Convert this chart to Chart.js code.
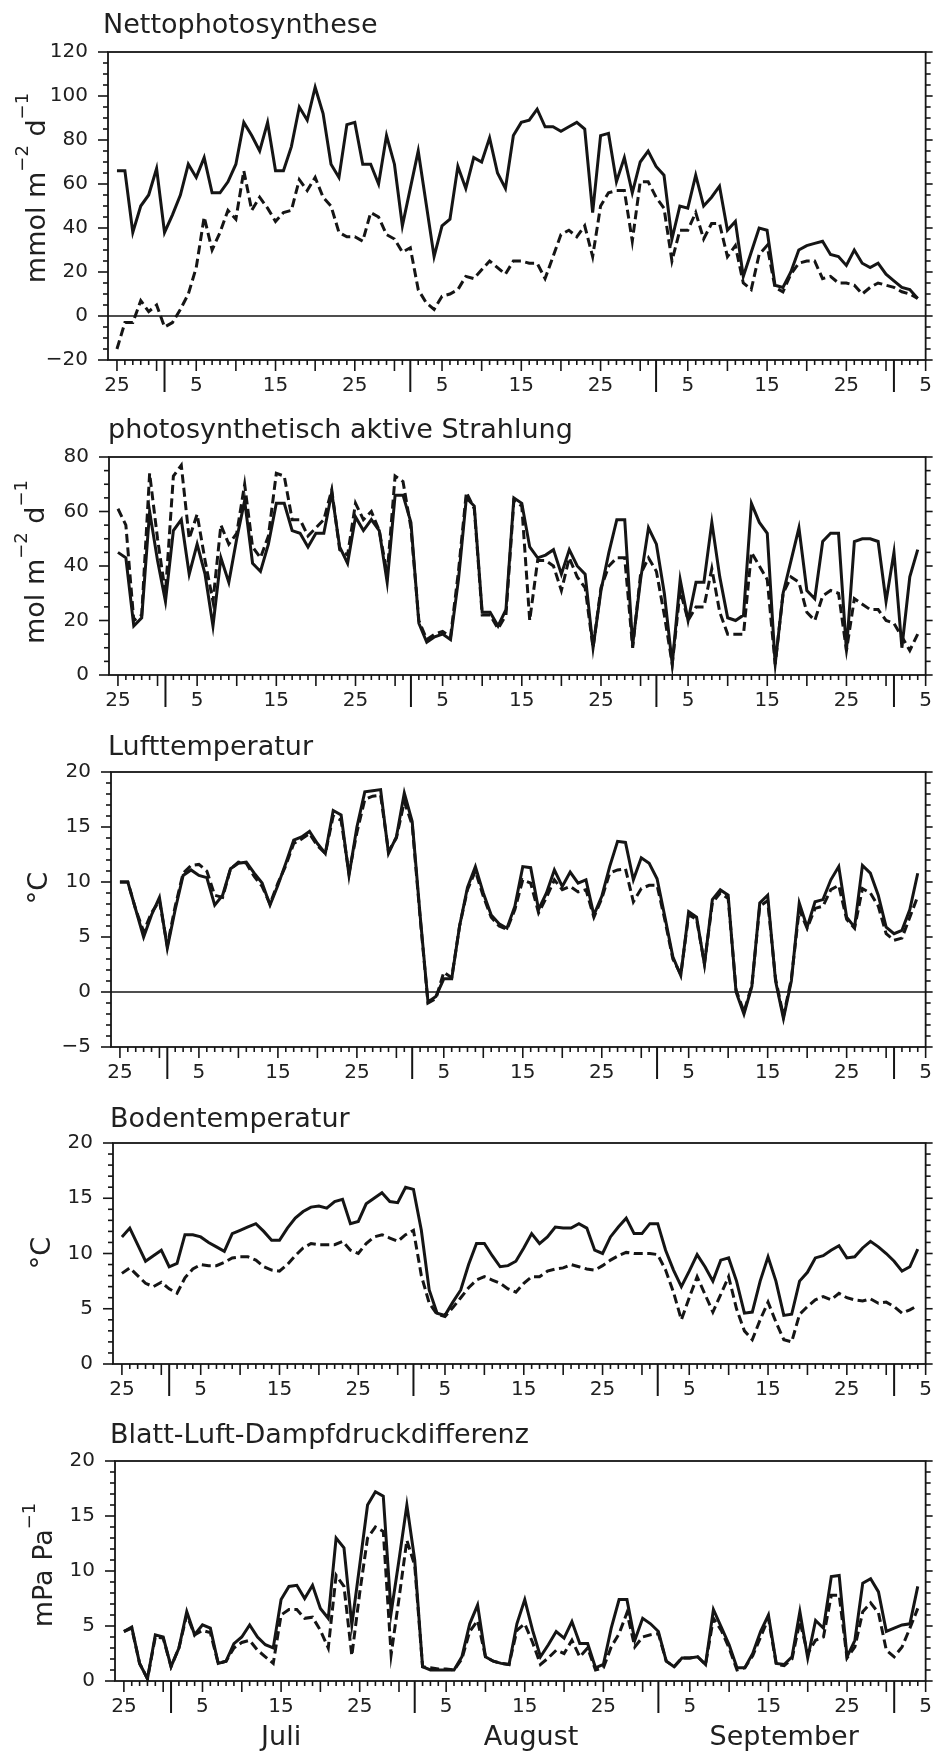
<!DOCTYPE html>
<html>
<head>
<meta charset="utf-8">
<title>Nettophotosynthese und Standortfaktoren</title>
<script src="https://cdn.jsdelivr.net/npm/chart.js@4.4.1/dist/chart.umd.min.js"></script>
<style>
  html, body { margin: 0; padding: 0; background: #fff; }
  #page { position: relative; width: 946px; height: 1755px; overflow: hidden; }
  #page canvas { position: absolute; left: 0; }
</style>
</head>
<body>
<div id="page">
  <canvas id="p1" width="946" height="410" style="top:0px"></canvas>
  <canvas id="p2" width="946" height="315" style="top:410px"></canvas>
  <canvas id="p3" width="946" height="370" style="top:725px"></canvas>
  <canvas id="p4" width="946" height="315" style="top:1095px"></canvas>
  <canvas id="p5" width="946" height="345" style="top:1410px"></canvas>
</div>
<script>
// day index 0 = 25 June ... 101 = 4 October
const monthLens = [30, 31, 31, 30, 31];   // June .. October
const tickDays = [0, 10, 20, 30, 41, 51, 61, 72, 82, 92, 102];
const tickText = ['25', '5', '15', '25', '5', '15', '25', '5', '15', '25', '5'];
const months = ['Juli', 'August', 'September'];

// Nettophotosynthese (mmol m-2 d-1)
const nettoA = [66, 66, 38, 50, 55, 67, 38, 46, 55, 69,
  63, 72, 56, 56, 61, 69, 88, 82, 75, 88,
  66, 66, 77, 95, 89, 104, 92, 69, 63, 87,
  88, 69, 69, 60, 82, 69, 41, 58, 75, 51,
  27, 41, 44, 68, 58, 72, 70, 81, 65, 58,
  82, 88, 89, 94, 86, 86, 84, 86, 88, 85,
  47, 82, 83, 61, 72, 56, 70, 75, 68, 64,
  35, 50, 49, 64, 50, 54, 59, 39, 43, 18,
  29, 40, 39, 14, 13, 20, 30, 32, 33, 34,
  28, 27, 23, 30, 24, 22, 24, 19, 16, 13,
  12, 8];
const nettoB = [-15, -3, -3, 7, 2, 5, -5, -3, 3, 10,
  22, 45, 30, 38, 48, 44, 66, 48, 54, 49,
  43, 47, 48, 62, 57, 63, 54, 50, 38, 36,
  36, 34, 47, 45, 37, 35, 29, 31, 12, 6,
  3, 9, 10, 12, 18, 17, 21, 25, 22, 19,
  25, 25, 24, 24, 17, 27, 37, 39, 36, 41,
  27, 50, 56, 57, 57, 34, 61, 61, 54, 49,
  25, 39, 39, 47, 35, 42, 42, 27, 32, 15,
  12, 28, 32, 13, 11, 19, 24, 25, 25, 17,
  18, 15, 15, 14, 10, 13, 15, 14, 13, 11,
  10, 8];

// photosynthetisch aktive Strahlung (mol m-2 d-1)
const parA = [45, 43, 18, 21, 60, 42, 27, 53, 57, 37,
  48, 37, 18, 43, 34, 50, 64, 41, 38, 48,
  63, 63, 53, 52, 47, 52, 52, 67, 47, 41,
  58, 53, 57, 53, 34, 66, 66, 56, 19, 12,
  14, 15, 13, 35, 65, 62, 23, 23, 18, 24,
  65, 63, 47, 43, 44, 46, 37, 46, 40, 37,
  10, 31, 45, 57, 57, 11, 35, 54, 48, 30,
  4, 35, 20, 34, 34, 56, 36, 21, 20, 22,
  63, 56, 52, 4, 30, 42, 54, 31, 28, 49,
  52, 52, 9, 49, 50, 50, 49, 27, 45, 10,
  36, 46];
const parB = [61, 55, 20, 22, 74, 50, 30, 73, 77, 50,
  59, 42, 27, 55, 48, 52, 70, 47, 43, 51,
  74, 73, 57, 57, 51, 54, 57, 68, 46, 44,
  63, 57, 60, 53, 37, 73, 71, 54, 20, 13,
  15, 16, 14, 38, 67, 61, 22, 22, 17, 22,
  64, 62, 20, 42, 42, 40, 31, 43, 36, 32,
  10, 32, 40, 43, 43, 10, 37, 43, 38, 22,
  4, 31, 20, 25, 25, 39, 23, 15, 15, 15,
  45, 40, 35, 4, 30, 36, 34, 23, 20, 29,
  31, 30, 9, 28, 26, 24, 24, 20, 19, 14,
  9, 15];

// Lufttemperatur (degC)
const luftA = [10.0, 10.0, 7.5, 5.0, 7.0, 8.6, 4.0, 7.5, 10.6, 11.1,
  10.6, 10.4, 7.9, 8.8, 11.2, 11.7, 11.8, 10.8, 9.9, 7.9,
  9.7, 11.7, 13.8, 14.1, 14.6, 13.5, 12.6, 16.5, 16.1, 10.6,
  15.0, 18.2, 18.3, 18.4, 12.6, 14.1, 18.1, 15.5, 7.0, -0.9,
  -0.4, 1.2, 1.2, 6.0, 9.5, 11.4, 9.0, 7.0, 6.2, 5.8,
  7.8, 11.4, 11.3, 7.5, 9.0, 11.1, 9.6, 10.9, 9.9, 10.2,
  7.0, 8.7, 11.4, 13.7, 13.6, 10.2, 12.2, 11.7, 10.3, 6.8,
  3.2, 1.5, 7.3, 6.8, 2.5, 8.4, 9.3, 8.8, 0.0, -2.0,
  0.5, 8.1, 8.8, 1.0, -2.4, 1.0, 8.1, 5.9, 8.2, 8.4,
  10.2, 11.4, 6.8, 5.9, 11.5, 10.8, 8.8, 5.9, 5.3, 5.6,
  7.5, 10.8];
const luftB = [10.0, 10.0, 7.5, 5.5, 7.2, 8.3, 4.2, 7.8, 10.8, 11.5,
  11.6, 11.0, 8.8, 8.6, 11.2, 11.8, 11.7, 10.5, 9.6, 8.0,
  9.9, 11.5, 13.5, 13.9, 14.4, 13.3, 12.6, 16.0, 15.6, 10.8,
  14.5, 17.5, 17.8, 17.9, 12.8, 14.0, 17.3, 15.2, 6.8, -1.0,
  -0.6, 1.8, 1.3, 6.0, 9.3, 11.0, 8.7, 6.8, 6.0, 5.7,
  7.5, 10.2, 9.9, 7.2, 8.6, 10.2, 9.3, 9.6, 9.1, 9.3,
  6.8, 8.5, 10.8, 11.1, 11.2, 8.2, 9.4, 9.7, 9.7, 6.5,
  3.0, 1.6, 7.0, 6.6, 2.6, 8.1, 9.0, 8.5, 0.2, -1.8,
  0.6, 7.8, 8.3, 1.2, -2.2, 1.2, 7.5, 5.8, 7.6, 7.8,
  9.3, 9.7, 6.6, 5.8, 9.4, 9.0, 7.8, 5.3, 4.7, 4.9,
  6.8, 8.7];

// Bodentemperatur (degC)
const bodenA = [11.5, 12.3, 10.8, 9.3, 9.8, 10.3, 8.8, 9.1, 11.7, 11.7,
  11.5, 11.0, 10.6, 10.2, 11.8, 12.1, 12.4, 12.7, 12.0, 11.2,
  11.2, 12.3, 13.2, 13.8, 14.2, 14.3, 14.1, 14.7, 14.9, 12.7,
  12.9, 14.5, 15.0, 15.5, 14.7, 14.6, 16.0, 15.8, 12.1, 6.7,
  4.6, 4.4, 5.6, 6.7, 9.0, 10.9, 10.9, 9.8, 8.8, 8.9,
  9.3, 10.5, 11.8, 10.9, 11.5, 12.4, 12.3, 12.3, 12.7, 12.3,
  10.3, 10.0, 11.5, 12.4, 13.2, 11.8, 11.8, 12.7, 12.7, 10.3,
  8.5, 7.0, 8.4, 9.9, 8.8, 7.5, 9.4, 9.6, 7.5, 4.6,
  4.7, 7.5, 9.7, 7.5, 4.4, 4.5, 7.5, 8.3, 9.6, 9.8,
  10.3, 10.7, 9.6, 9.7, 10.5, 11.1, 10.6, 10.0, 9.3, 8.4,
  8.8, 10.4];
const bodenB = [8.2, 8.7, 8.0, 7.3, 7.0, 7.4, 6.8, 6.4, 7.8, 8.6,
  9.0, 8.9, 8.9, 9.2, 9.6, 9.7, 9.7, 9.4, 8.8, 8.5,
  8.4, 9.0, 9.8, 10.5, 10.9, 10.8, 10.8, 10.8, 11.1, 10.3,
  10.0, 10.9, 11.5, 11.7, 11.4, 11.1, 11.7, 12.1, 8.0, 5.5,
  4.5, 4.3, 5.1, 6.0, 6.9, 7.6, 7.9, 7.6, 7.3, 6.8,
  6.5, 7.3, 7.9, 7.9, 8.4, 8.6, 8.7, 9.0, 8.8, 8.6,
  8.5, 8.9, 9.4, 9.8, 10.1, 10.0, 10.0, 10.0, 9.9, 8.5,
  6.5, 4.0, 6.0, 7.9, 6.3, 4.7, 6.3, 7.9, 5.0, 3.0,
  2.2, 4.0, 5.6, 3.8, 2.2, 2.0, 4.5, 5.2, 5.8, 6.1,
  5.8, 6.4, 6.0, 5.8, 5.7, 5.9, 5.5, 5.6, 5.2, 4.6,
  4.9, 5.3];

// Blatt-Luft-Dampfdruckdifferenz (mPa Pa-1)
const vpdA = [4.5, 4.9, 1.6, 0.2, 4.2, 4.0, 1.3, 3.0, 6.3, 4.2,
  5.1, 4.8, 1.6, 1.8, 3.4, 4.0, 5.1, 4.0, 3.3, 3.0,
  7.4, 8.6, 8.7, 7.5, 8.7, 6.6, 5.7, 13.0, 12.1, 5.1,
  10.5, 16.0, 17.2, 16.8, 6.2, 11.0, 16.0, 11.0, 1.3, 1.0,
  1.0, 1.0, 1.0, 2.2, 5.2, 6.9, 2.2, 1.8, 1.6, 1.5,
  5.2, 7.4, 4.6, 2.2, 3.3, 4.5, 3.9, 5.4, 3.4, 3.4,
  1.2, 1.5, 4.8, 7.4, 7.4, 3.7, 5.7, 5.2, 4.5, 1.8,
  1.3, 2.1, 2.1, 2.2, 1.5, 6.5, 4.9, 3.3, 1.2, 1.2,
  2.5, 4.5, 6.0, 1.6, 1.5, 2.2, 6.3, 2.1, 5.5, 4.8,
  9.5, 9.6, 2.2, 3.7, 8.9, 9.3, 8.1, 4.5, 4.8, 5.1,
  5.2, 8.6];
const vpdB = [4.5, 4.8, 1.6, 0.2, 4.0, 3.9, 1.3, 3.0, 6.0, 4.2,
  4.6, 4.4, 1.6, 1.8, 3.0, 3.5, 3.7, 2.8, 2.2, 1.6,
  6.0, 6.5, 6.5, 5.7, 5.8, 4.6, 3.0, 9.6, 8.6, 2.3,
  8.0, 13.0, 14.0, 13.6, 2.4, 7.5, 12.8, 10.5, 1.3, 1.2,
  1.1, 1.1, 1.0, 2.0, 4.5, 5.5, 2.2, 1.8, 1.6, 1.5,
  4.6, 5.2, 3.5, 1.5, 2.1, 2.8, 2.5, 3.7, 2.2, 3.0,
  1.0, 1.2, 3.1, 4.3, 6.2, 3.1, 4.0, 4.2, 4.3, 1.8,
  1.3, 2.1, 2.1, 2.2, 1.5, 5.7, 4.6, 3.0, 1.0, 1.2,
  2.3, 4.0, 5.7, 1.5, 1.4, 2.0, 5.4, 2.5, 3.7, 4.0,
  7.8, 7.8, 2.1, 3.1, 6.3, 7.1, 6.2, 2.8, 2.2, 3.1,
  4.8, 6.6];

const INK = '#151515';
const FONT = '"DejaVu Sans", sans-serif';

// unit labels: [text, superscript?]
const unitNetto = [['mmol m', 0], ['\u22122', 1], [' d', 0], ['\u22121', 1]];
const unitPar = [['mol m', 0], ['\u22122', 1], [' d', 0], ['\u22121', 1]];
const unitDeg = [['\u00B0C', 0]];
const unitVpd = [['mPa Pa', 0], ['\u22121', 1]];

const panels = [
  { id: 'p1', title: 'Nettophotosynthese', unit: unitNetto,
    a: nettoA, b: nettoB, min: -20, max: 120, step: 20, minor: 5, zero: true,
    box: { left: 108, right: 932, top: 52, bottom: 360, h: 410 }, titleAt: [103, 33], unitAt: [45, 188] },
  { id: 'p2', title: 'photosynthetisch aktive Strahlung', unit: unitPar,
    a: parA, b: parB, min: 0, max: 80, step: 20, minor: 5, zero: false,
    box: { left: 109, right: 933, top: 47, bottom: 265, h: 315 }, titleAt: [108, 28], unitAt: [44, 152] },
  { id: 'p3', title: 'Lufttemperatur', unit: unitDeg,
    a: luftA, b: luftB, min: -5, max: 20, step: 5, minor: 1, zero: true,
    box: { left: 111, right: 935, top: 47, bottom: 322, h: 370 }, titleAt: [108, 30], unitAt: [47, 163] },
  { id: 'p4', title: 'Bodentemperatur', unit: unitDeg,
    a: bodenA, b: bodenB, min: 0, max: 20, step: 5, minor: 1, zero: false,
    box: { left: 113, right: 937, top: 48, bottom: 269, h: 315 }, titleAt: [110, 32], unitAt: [50, 158] },
  { id: 'p5', title: 'Blatt-Luft-Dampfdruckdifferenz', unit: unitVpd,
    a: vpdA, b: vpdB, min: 0, max: 20, step: 5, minor: 1, zero: false,
    box: { left: 115, right: 940, top: 51, bottom: 271, h: 345 }, titleAt: [110, 33], unitAt: [52, 155],
    monthAt: [20, 51.8, 84], monthY: 335 }
];

function dayOfMonth(d) {
  let m = 0, day = 25 + d;
  while (day > monthLens[m]) { day -= monthLens[m]; m++; }
  return day;
}

function seg(ctx, x1, y1, x2, y2) {
  ctx.beginPath(); ctx.moveTo(x1, y1); ctx.lineTo(x2, y2); ctx.stroke();
}

const BIG = '27px ' + FONT, SUP = '18px ' + FONT;

function drawUnit(ctx, parts) {
  let w = 0;
  parts.forEach(([t, s]) => { ctx.font = s ? SUP : BIG; w += ctx.measureText(t).width; });
  let cx = -w / 2;
  parts.forEach(([t, s]) => {
    ctx.font = s ? SUP : BIG;
    ctx.fillText(t, cx, s ? -17 : 0);
    cx += ctx.measureText(t).width;
  });
}

// frame, tick marks and extra labels
const decor = {
  id: 'decor',
  afterDraw(chart, args, o) {
    const { ctx, chartArea: a, scales: { x, y } } = chart;
    ctx.save();
    ctx.strokeStyle = INK;
    ctx.lineWidth = 1.8;
    ctx.strokeRect(a.left, a.top, a.right - a.left, a.bottom - a.top);
    if (o.zero) {
      ctx.lineWidth = 1.5;
      const z = y.getPixelForValue(0);
      seg(ctx, a.left, z, a.right, z);
    }
    ctx.lineWidth = 1.6;
    for (let v = o.min; v <= o.max; v += o.minor) {
      const py = y.getPixelForValue(v);
      const major = v % o.step === 0;
      seg(ctx, a.left - (major ? 10 : 5), py, a.left, py);
      seg(ctx, a.right, py, a.right + (major ? 7 : 5), py);
    }
    for (let d = 0; d <= 102; d++) {
      const px = x.getPixelForValue(d);
      const dom = dayOfMonth(d);
      const len = dom === 1 ? 32 : (dom % 5 === 0 ? 11 : 5);
      ctx.lineWidth = dom === 1 ? 2 : 1.6;
      seg(ctx, px, a.bottom, px, a.bottom + len);
    }
    ctx.fillStyle = '#202020';
    ctx.font = BIG;
    ctx.textAlign = 'left';
    ctx.textBaseline = 'alphabetic';
    ctx.fillText(o.title, o.titleAt[0], o.titleAt[1]);
    ctx.save();
    ctx.translate(o.unitAt[0], o.unitAt[1]);
    ctx.rotate(-Math.PI / 2);
    drawUnit(ctx, o.unit);
    ctx.restore();
    if (o.monthAt) {
      ctx.font = BIG;
      ctx.textAlign = 'center';
      o.monthAt.forEach((d, i) => ctx.fillText(months[i], x.getPixelForValue(d), o.monthY));
    }
    ctx.restore();
  }
};

Chart.defaults.font.family = FONT;
Chart.defaults.font.size = 20;
Chart.defaults.color = '#202020';

panels.forEach(p => {
  const b = p.box;
  new Chart(document.getElementById(p.id), {
    type: 'line',
    data: {
      datasets: [
        { data: p.a.map((v, i) => ({ x: i, y: v })), borderColor: INK, borderWidth: 3,
          pointRadius: 0, tension: 0, fill: false },
        { data: p.b.map((v, i) => ({ x: i, y: v })), borderColor: INK, borderWidth: 3,
          borderDash: [9, 4.5], pointRadius: 0, tension: 0, fill: false }
      ]
    },
    options: {
      responsive: false,
      animation: false,
      events: [],
      layout: { autoPadding: false, padding: { left: 0, top: b.top, right: 946 - b.right, bottom: 0 } },
      plugins: {
        legend: { display: false },
        tooltip: { enabled: false },
        decor: p
      },
      scales: {
        x: {
          type: 'linear', min: -1.13, max: 102,
          grid: { display: false, drawTicks: false }, border: { display: false },
          afterBuildTicks: s => { s.ticks = tickDays.map(v => ({ value: v })); },
          afterFit: s => { s.height = b.h - b.bottom; },
          ticks: { autoSkip: false, maxRotation: 0, minRotation: 0, padding: 14,
            callback: (v, i) => tickText[i] }
        },
        y: {
          min: p.min, max: p.max,
          grid: { display: false, drawTicks: false }, border: { display: false },
          afterFit: s => { s.width = b.left; },
          ticks: { stepSize: p.step, padding: 20,
            callback: v => v < 0 ? '\u2212' + Math.abs(v) : String(v) }
        }
      }
    },
    plugins: [decor]
  });
});
</script>
</body>
</html>
